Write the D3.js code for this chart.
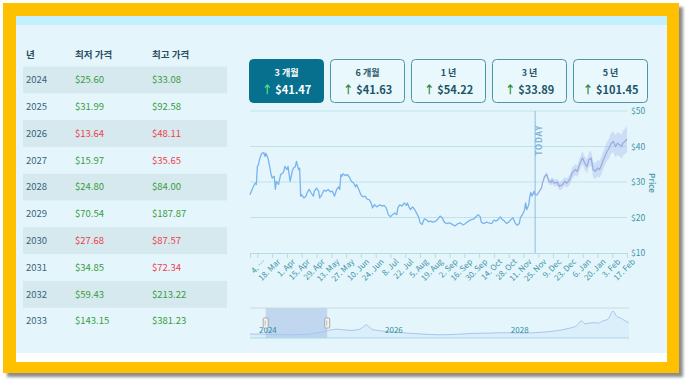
<!DOCTYPE html>
<html><head><meta charset="utf-8">
<script src="https://cdn.jsdelivr.net/npm/d3@7"></script>
<style>html,body{margin:0;padding:0;background:#fff;}svg{display:block;}</style>
</head><body><svg id="c" width="689" height="385"></svg>
<script>
// ---------- DATA ----------
const tableYears = ["2024","2025","2026","2027","2028","2029","2030","2031","2032","2033"];
const tableMin = [25.60,31.99,13.64,15.97,24.80,70.54,27.68,34.85,59.43,143.15];
const tableMax = [33.08,92.58,48.11,35.65,84.00,187.87,87.57,72.34,213.22,381.23];
const tableMinUp = [true,true,false,true,true,true,false,true,true,true];
const tableMaxUp = [true,true,false,false,true,true,false,false,true,true];
const tableHeaders = ["년","최저 가격","최고 가격"];

const periods = ["3 개월","6 개월","1 년","3 년","5 년"];
const periodValues = [41.47,41.63,54.22,33.89,101.45];

const histDates = ["2024-02-26","2024-02-28","2024-02-29","2024-03-02","2024-03-03","2024-03-04","2024-03-05","2024-03-06","2024-03-07","2024-03-08","2024-03-10","2024-03-11","2024-03-12","2024-03-14","2024-03-15","2024-03-17","2024-03-18","2024-03-20","2024-03-21","2024-03-22","2024-03-24","2024-03-25","2024-03-26","2024-03-28","2024-03-29","2024-03-30","2024-04-01","2024-04-02","2024-04-04","2024-04-06","2024-04-07","2024-04-09","2024-04-10","2024-04-12","2024-04-13","2024-04-14","2024-04-15","2024-04-17","2024-04-19","2024-04-20","2024-04-22","2024-04-24","2024-04-26","2024-04-27","2024-04-29","2024-05-01","2024-05-02","2024-05-04","2024-05-06","2024-05-08","2024-05-10","2024-05-12","2024-05-14","2024-05-16","2024-05-18","2024-05-20","2024-05-21","2024-05-22","2024-05-23","2024-05-24","2024-05-26","2024-05-28","2024-05-30","2024-06-01","2024-06-03","2024-06-05","2024-06-06","2024-06-08","2024-06-10","2024-06-12","2024-06-14","2024-06-16","2024-06-18","2024-06-20","2024-06-21","2024-06-23","2024-06-25","2024-06-26","2024-06-28","2024-06-30","2024-07-02","2024-07-04","2024-07-06","2024-07-08","2024-07-10","2024-07-12","2024-07-14","2024-07-15","2024-07-17","2024-07-19","2024-07-21","2024-07-23","2024-07-24","2024-07-26","2024-07-27","2024-07-29","2024-07-31","2024-08-02","2024-08-04","2024-08-05","2024-08-07","2024-08-09","2024-08-11","2024-08-13","2024-08-15","2024-08-17","2024-08-20","2024-08-22","2024-08-24","2024-08-26","2024-08-28","2024-08-30","2024-09-02","2024-09-05","2024-09-07","2024-09-10","2024-09-12","2024-09-15","2024-09-17","2024-09-20","2024-09-22","2024-09-25","2024-09-27","2024-09-29","2024-10-01","2024-10-02","2024-10-04","2024-10-07","2024-10-09","2024-10-12","2024-10-14","2024-10-16","2024-10-18","2024-10-20","2024-10-22","2024-10-24","2024-10-26","2024-10-28","2024-10-30","2024-11-01","2024-11-03","2024-11-05","2024-11-07","2024-11-08","2024-11-10","2024-11-12","2024-11-13","2024-11-14","2024-11-16","2024-11-17","2024-11-18","2024-11-19","2024-11-21","2024-11-22"];
const histValues = [26.4,27.9,28.6,29.7,29.3,34.4,34.9,36.3,37.2,38.1,38.3,37.2,38.1,36.7,35.3,32.1,31.1,31.6,27.9,30.2,29.3,30.7,32.1,32.5,33.0,34.4,33.5,34.4,30.2,33.0,33.9,34.4,35.8,33.5,33.9,26.0,26.4,25.5,26.0,26.9,27.9,26.9,26.0,27.4,28.3,27.4,25.5,26.4,27.7,27.4,27.9,27.2,27.4,26.0,27.9,28.6,27.9,32.1,31.6,32.3,31.8,32.1,31.4,30.2,29.7,28.6,29.3,27.9,26.4,25.8,26.0,25.2,25.0,23.9,22.7,23.6,23.0,23.2,23.6,23.2,23.4,22.7,20.8,20.2,20.8,21.3,20.8,22.7,23.6,23.2,24.1,23.4,24.1,22.7,22.2,23.0,22.2,21.1,19.9,18.5,18.0,19.6,19.4,18.8,19.0,18.7,19.0,19.6,20.4,19.9,18.7,18.3,18.5,18.0,17.6,18.3,18.5,17.9,18.3,19.0,19.3,19.6,20.2,20.8,20.2,18.7,18.3,18.7,18.5,18.3,19.3,19.0,19.4,20.2,19.4,19.0,18.3,18.7,19.4,19.9,18.5,17.8,18.3,19.9,20.8,22.2,24.1,22.2,23.6,26.0,27.1,26.0,27.4,26.4];

const fcDates = ["2024-11-22","2024-11-24","2024-11-26","2024-11-28","2024-11-29","2024-12-01","2024-12-03","2024-12-05","2024-12-07","2024-12-08","2024-12-10","2024-12-13","2024-12-15","2024-12-18","2024-12-20","2024-12-22","2024-12-25","2024-12-27","2024-12-30","2025-01-01","2025-01-03","2025-01-05","2025-01-06","2025-01-08","2025-01-10","2025-01-12","2025-01-14","2025-01-16","2025-01-18","2025-01-20","2025-01-22","2025-01-24","2025-01-25","2025-01-27","2025-01-29","2025-01-31","2025-02-02","2025-02-04","2025-02-06","2025-02-08","2025-02-10","2025-02-12","2025-02-13","2025-02-15","2025-02-17"];
const fcValues = [26.4,26.4,27.4,28.3,29.7,31.6,32.1,30.2,29.9,30.5,29.7,29.9,28.8,29.3,30.2,29.7,30.8,32.5,33.5,33.0,34.9,36.3,36.7,35.3,34.4,36.3,36.7,33.5,33.0,33.9,33.5,34.9,35.8,37.2,38.6,39.5,40.9,41.4,40.0,40.9,40.5,40.0,40.9,41.4,42.1];
const fcLow = [26.4,26.2,27.1,27.9,29.2,31.0,31.4,29.4,29.0,29.6,28.7,28.9,27.7,28.1,29.0,28.4,29.4,31.0,31.9,31.4,33.2,34.5,34.9,33.4,32.4,34.3,34.6,31.3,30.8,31.6,31.1,32.4,33.3,34.6,35.9,36.7,38.0,38.4,36.9,37.7,37.2,36.6,37.4,37.8,38.4];
const fcHigh = [26.4,26.6,27.7,28.7,30.2,32.2,32.8,31.0,30.8,31.4,30.7,30.9,29.9,30.5,31.4,31.0,32.2,34.0,35.1,34.6,36.6,38.1,38.5,37.2,36.4,38.3,38.8,35.7,35.2,36.2,35.9,37.4,38.3,39.8,41.3,42.3,43.8,44.4,43.1,44.1,43.8,43.4,44.4,45.0,45.8];
const todayDate = "2024-11-22";

const xTickDates = ["2024-03-04","2024-03-18","2024-04-01","2024-04-15","2024-04-29","2024-05-13","2024-05-27","2024-06-10","2024-06-24","2024-07-08","2024-07-22","2024-08-05","2024-08-19","2024-09-02","2024-09-16","2024-09-30","2024-10-14","2024-10-28","2024-11-11","2024-11-25","2024-12-09","2024-12-23","2025-01-06","2025-01-20","2025-02-03","2025-02-17"];
const xTickLabels = ["4. …","18. Mar","1. Apr","15. Apr","29. Apr","13. May","27. May","10. Jun","24. Jun","8. Jul","22. Jul","5. Aug","19. Aug","2. Sep","16. Sep","30. Sep","14. Oct","28. Oct","11. Nov","25. Nov","9. Dec","23. Dec","6. Jan","20. Jan","3. Feb","17. Feb"];
const yTicks = [10,20,30,40,50];

const navDates = ["2023-11-27","2024-01-24","2024-04-10","2024-07-16","2024-10-20","2024-12-16","2025-02-24","2025-04-12","2025-06-29","2025-08-25","2025-10-04","2025-11-01","2025-12-20","2026-03-08","2026-05-23","2026-08-27","2026-12-02","2027-03-09","2027-06-13","2027-09-17","2027-12-23","2028-03-29","2028-07-04","2028-10-08","2028-12-24","2029-02-02","2029-03-04","2029-03-23","2029-05-09","2029-06-07","2029-07-06","2029-08-04","2029-09-02","2029-09-25","2029-10-20","2029-11-18","2029-12-04"];
const navValues = [28,28,26,23,26,35,54,63,54,63,94,63,52,42,35,28,23,26,33,35,38,35,40,52,70,87,122,101,110,106,122,134,192,153,141,117,110];
const navYearLabels = ["2024","2026","2028"];
const navYearDates = ["2024-01-01","2026-01-01","2028-01-01"];
const navSelection = ["2024-02-26","2025-02-17"];

// ---------- DRAW ----------
const parse = d3.timeParse("%Y-%m-%d");
const svg = d3.select("#c");
const FONT = "'Noto Sans CJK KR','Noto Sans',sans-serif";

// frame
const defs = svg.append("defs");
const f = defs.append("filter").attr("id","sh").attr("x","-5%").attr("y","-5%").attr("width","115%").attr("height","115%");
f.append("feDropShadow").attr("dx",4).attr("dy",4).attr("stdDeviation",1.5).attr("flood-color","#000").attr("flood-opacity",0.45);
svg.append("rect").attr("x",3).attr("y",3).attr("width",676).attr("height",370).attr("fill","#FFC000").attr("filter","url(#sh)");
svg.append("rect").attr("x",16).attr("y",16).attr("width",651).attr("height",346).attr("fill","#ffffff");
svg.append("rect").attr("x",16).attr("y",16).attr("width",651).attr("height",337).attr("fill","#e4f6fc");
svg.append("rect").attr("x",16).attr("y",16).attr("width",651).attr("height",9).attr("fill","#c2f0fd");

// table
const rowY = d3.scaleBand().domain(tableYears).range([66.5, 334.5]);
const colX = [26, 75, 152];
const tbl = svg.append("g").attr("font-family", FONT);
tbl.selectAll("text.h").data(tableHeaders).join("text")
  .attr("x",(d,i)=>colX[i]).attr("y",55).attr("dy","0.35em")
  .attr("font-size",9.5).attr("font-weight","bold").attr("fill","#2b4d5c").text(d=>d);
tbl.selectAll("rect.s").data(tableYears.filter((d,i)=>i%2===0)).join("rect")
  .attr("x",23).attr("width",204).attr("y",d=>rowY(d)).attr("height",rowY.bandwidth()).attr("fill","#d6e9ef");
const green = "#3b9b3b", red = "#ee3f4a";
tableYears.forEach((yr,i)=>{
  const cy = rowY(yr) + rowY.bandwidth()/2;
  tbl.append("text").attr("x",colX[0]).attr("y",cy).attr("dy","0.35em").attr("font-size",9.5).attr("fill","#3c6474").text(yr);
  tbl.append("text").attr("x",colX[1]).attr("y",cy).attr("dy","0.35em").attr("font-size",9.5).attr("fill",tableMinUp[i]?green:red).text("$"+tableMin[i].toFixed(2));
  tbl.append("text").attr("x",colX[2]).attr("y",cy).attr("dy","0.35em").attr("font-size",9.5).attr("fill",tableMaxUp[i]?green:red).text("$"+tableMax[i].toFixed(2));
});

// buttons
const bx = d3.scaleBand().domain(periods).range([249, 648]).paddingInner(0.074).paddingOuter(0);
const btn = svg.append("g").attr("font-family", FONT);
periods.forEach((p,i)=>{
  const active = i===0;
  const x0 = bx(p), w = bx.bandwidth();
  btn.append("rect").attr("x",x0+0.5).attr("y",59.5).attr("width",w-1).attr("height",43).attr("rx",4)
    .attr("fill",active?"#08708f":"#e8f8fd").attr("stroke",active?"#08708f":"#4e94a6").attr("stroke-width",1);
  btn.append("text").attr("x",x0+w/2).attr("y",73).attr("dy","0.35em").attr("text-anchor","middle")
    .attr("font-size",9).attr("font-weight","bold").attr("fill",active?"#ffffff":"#2b5566").text(p);
  const t = btn.append("text").attr("x",x0+w/2).attr("y",90).attr("dy","0.35em").attr("text-anchor","middle")
    .attr("font-size",11).attr("font-weight","bold");
  t.append("tspan").attr("fill",active?"#4fe07a":"#2e8b2e").text("↑ ");
  t.append("tspan").attr("fill",active?"#ffffff":"#1d5566").text("$"+periodValues[i].toFixed(2));
});

// main chart
const x = d3.scaleTime().domain([parse("2024-02-26"), parse("2025-02-17")]).range([250, 627]);
const y = d3.scaleLinear().domain([10,50]).range([253,111]);
const g = svg.append("g").attr("font-family", FONT);

g.append("g").selectAll("line").data(yTicks.filter(v=>v>10)).join("line")
  .attr("x1",250).attr("x2",627).attr("y1",d=>y(d)).attr("y2",d=>y(d))
  .attr("stroke","#bfe2ec").attr("stroke-width",1);

const yAxis = g.append("g").attr("transform","translate(627,0)")
  .call(d3.axisRight(y).tickValues(yTicks).tickSize(0).tickPadding(4).tickFormat(d=>"$"+d));
yAxis.select(".domain").remove();
yAxis.selectAll("text").attr("font-size",8.5).attr("fill","#3f95a5").attr("font-family",FONT);

g.append("text").attr("transform","translate(649,183) rotate(90)").attr("text-anchor","middle")
  .attr("font-size",8).attr("fill","#5e9fae").attr("font-weight","bold").text("Price");

const xAxis = g.append("g").attr("transform","translate(0,253)")
  .call(d3.axisBottom(x).tickValues(xTickDates.map(parse)).tickSize(5).tickFormat((d,i)=>xTickLabels[i]));
xAxis.select(".domain").attr("stroke","#b7dbe6");
xAxis.selectAll(".tick line").attr("stroke","#b7dbe6");
xAxis.selectAll("text").attr("font-size",8).attr("fill","#3f95a5").attr("font-family",FONT)
  .attr("text-anchor","end").attr("dy","0.35em").attr("transform","translate(2,3) rotate(-45)").attr("y",6).attr("x",0);

// today line
const tx = x(parse(todayDate));
g.append("line").attr("x1",tx).attr("x2",tx).attr("y1",111).attr("y2",253).attr("stroke","#86bfe3").attr("stroke-width",1);
g.append("text").attr("transform",`translate(${tx+7},125) rotate(-90)`).attr("text-anchor","end")
  .attr("font-size",8.5).attr("font-weight","bold").attr("letter-spacing",0.6).attr("fill","#7fb4d8").text("TODAY");

// forecast band
const fc = fcDates.map((d,i)=>({d:parse(d),v:fcValues[i],lo:fcLow[i],hi:fcHigh[i]}));
g.append("path").datum(fc).attr("fill","#b4c4ef").attr("fill-opacity",0.5)
  .attr("d", d3.area().x(d=>x(d.d)).y0(d=>y(d.lo)).y1(d=>y(d.hi)));
g.append("path").datum(fc).attr("fill","none").attr("stroke","#9badde").attr("stroke-width",1.3)
  .attr("d", d3.line().x(d=>x(d.d)).y(d=>y(d.v)));

// history line
const hist = histDates.map((d,i)=>({d:parse(d),v:histValues[i]}));
g.append("path").datum(hist).attr("fill","none").attr("stroke","#79b3ee").attr("stroke-width",1.3)
  .attr("stroke-linejoin","round").attr("d", d3.line().x(d=>x(d.d)).y(d=>y(d.v)));

// navigator
const nx = d3.scaleTime().domain([parse(navDates[0]), parse(navDates[navDates.length-1])]).range([250, 629]);
const ny = d3.scaleLinear().domain([0,200]).range([338, 310]);
const nav = svg.append("g").attr("font-family", FONT);
const navData = navDates.map((d,i)=>({d:parse(d),v:navValues[i]}));
nav.append("path").datum(navData).attr("fill","#d6edf8").attr("fill-opacity",0.7)
  .attr("d", d3.area().x(d=>nx(d.d)).y0(338).y1(d=>ny(d.v)).curve(d3.curveMonotoneX));
const s0 = nx(parse(navSelection[0])), s1 = nx(parse(navSelection[1]));
nav.append("rect").attr("x",s0).attr("y",308).attr("width",s1-s0).attr("height",30).attr("fill","#a9c3e6").attr("fill-opacity",0.6);
nav.append("path").datum(navData).attr("fill","none").attr("stroke","#a7c6ee").attr("stroke-width",1)
  .attr("d", d3.line().x(d=>nx(d.d)).y(d=>ny(d.v)).curve(d3.curveMonotoneX));
nav.append("line").attr("x1",250).attr("x2",629).attr("y1",308).attr("y2",308).attr("stroke","#cfd8dc").attr("stroke-width",1);
nav.append("line").attr("x1",250).attr("x2",629).attr("y1",338).attr("y2",338).attr("stroke","#a9d7e6").attr("stroke-width",1);
nav.selectAll("text.y").data(navYearLabels).join("text")
  .attr("x",(d,i)=>nx(parse(navYearDates[i]))+3).attr("y",333).attr("font-size",8).attr("fill","#2f8c9e").text(d=>d);
[s0,s1].forEach(sx=>{
  nav.append("rect").attr("x",sx-2.5).attr("y",318).attr("width",5).attr("height",10).attr("rx",1)
    .attr("fill","#f2f2f2").attr("stroke","#999").attr("stroke-width",0.8);
  nav.append("line").attr("x1",sx-0.5).attr("x2",sx-0.5).attr("y1",320.5).attr("y2",325.5).attr("stroke","#999").attr("stroke-width",0.6);
});
</script></body></html>
